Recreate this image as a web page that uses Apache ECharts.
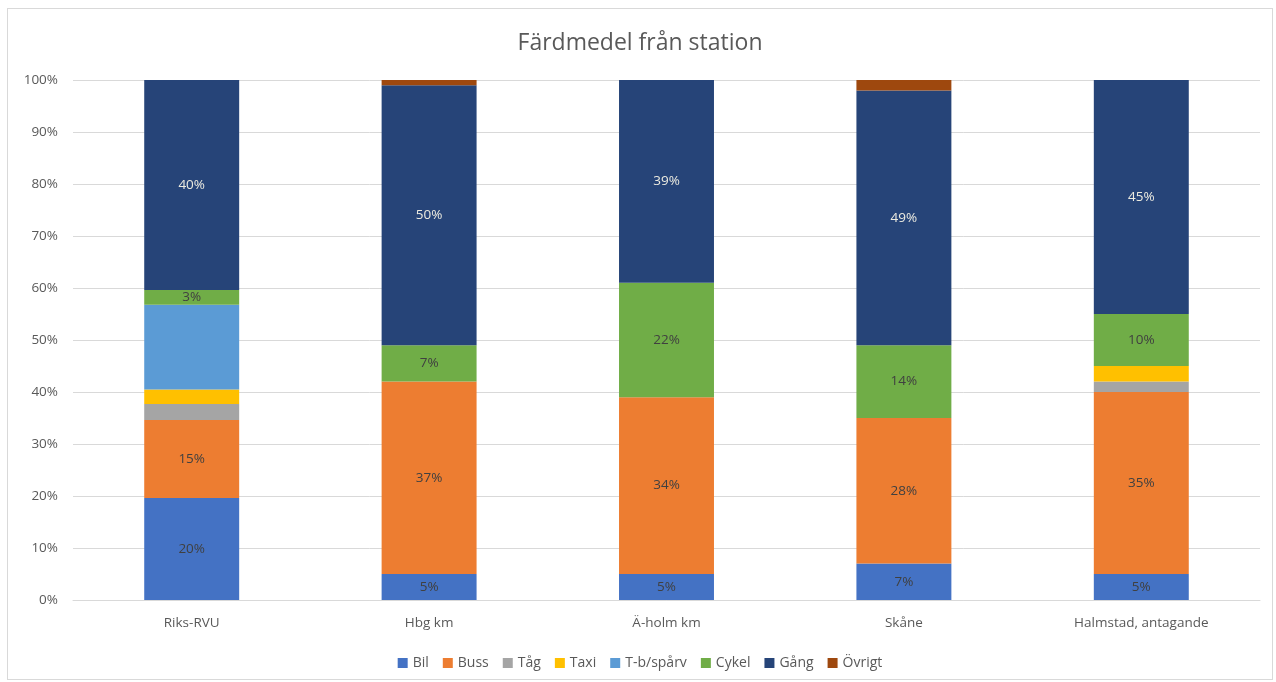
<!DOCTYPE html>
<html>
<head>
<meta charset="utf-8">
<script src="https://cdn.jsdelivr.net/npm/echarts@6/dist/echarts.min.js"></script>
<style>
  html, body { margin: 0; padding: 0; background: #fff; }
  #main { position: absolute; left: 7px; top: 8px; width: 1266px; height: 672px; border: 1px solid #d9d9d9; box-sizing: border-box; }
</style>
</head>
<body>
<div id="main"></div>
<script>
const categories = ['Riks-RVU', 'Hbg km', 'Ä-holm km', 'Skåne', 'Halmstad, antagande'];
const bil     = [19.6, 5, 5, 7, 5];
const buss    = [15.0, 37, 34, 28, 35];
const tag     = [3.1, 0, 0, 0, 2];
const taxi    = [2.8, 0, 0, 0, 3];
const tbSparv = [16.3, 0, 0, 0, 0];
const cykel   = [2.8, 7, 22, 14, 10];
const gang    = [40.4, 50, 39, 49, 45];
const ovrigt  = [0, 1, 0, 2, 0];
const yTicks  = ['0%', '10%', '20%', '30%', '40%', '50%', '60%', '70%', '80%', '90%', '100%'];

const font = 'Open Sans, Noto Sans, sans-serif';

function mk(name, data, color, labelColor) {
  return {
    name: name,
    type: 'bar',
    stack: 'total',
    data: data,
    barCategoryGap: '60%',
    itemStyle: { color: color },
    label: labelColor ? {
      show: true,
      position: 'inside',
      color: labelColor,
      fontFamily: font,
      fontSize: 13.5,
      formatter: p => p.value > 0 ? Math.round(p.value) + '%' : ''
    } : { show: false }
  };
}

const option = {
  backgroundColor: '#fff',
  animation: false,
  title: {
    text: 'Färdmedel från station',
    left: 'center',
    top: 18,
    textStyle: { fontFamily: font, fontSize: 23, fontWeight: 'normal', color: '#595959' }
  },
  grid: { left: 65, right: 12, top: 71, bottom: 79 },
  legend: {
    bottom: 4,
    left: 'center',
    itemWidth: 10,
    itemHeight: 10,
    itemGap: 14,
    icon: 'rect',
    textStyle: { fontFamily: font, fontSize: 14, color: '#595959' },
    data: ['Bil', 'Buss', 'Tåg', 'Taxi', 'T-b/spårv', 'Cykel', 'Gång', 'Övrigt']
  },
  xAxis: {
    type: 'category',
    data: categories,
    axisLine: { lineStyle: { color: '#d9d9d9' } },
    axisTick: { show: false },
    axisLabel: { fontFamily: font, fontSize: 13.5, color: '#595959', margin: 16 }
  },
  yAxis: {
    type: 'value',
    min: 0,
    max: 100,
    interval: 10,
    axisLine: { show: false },
    axisTick: { show: false },
    splitLine: { lineStyle: { color: '#d9d9d9' } },
    axisLabel: {
      fontFamily: font, fontSize: 13.5, color: '#595959', margin: 15,
      formatter: v => yTicks[Math.round(v / 10)]
    }
  },
  series: [
    mk('Bil', bil, '#4472c4', '#404040'),
    mk('Buss', buss, '#ed7d31', '#404040'),
    mk('Tåg', tag, '#a5a5a5', null),
    mk('Taxi', taxi, '#ffc000', null),
    mk('T-b/spårv', tbSparv, '#5b9bd5', null),
    mk('Cykel', cykel, '#70ad47', '#404040'),
    mk('Gång', gang, '#264478', '#ecebe0'),
    mk('Övrigt', ovrigt, '#9e480e', null)
  ]
};

const chart = echarts.init(document.getElementById('main'));
chart.setOption(option);
</script>
</body>
</html>
